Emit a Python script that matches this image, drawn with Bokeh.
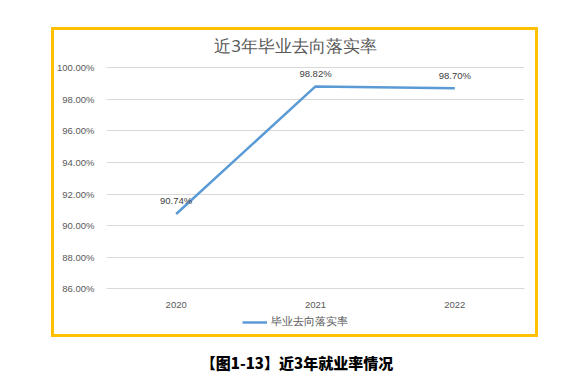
from bokeh.plotting import figure
from bokeh.models import (ColumnDataSource, FixedTicker, NumeralTickFormatter,
                          Legend, LegendItem, Range1d, Label, Div)
from bokeh.layouts import column
from bokeh.core.properties import value
from bokeh.embed import file_html
from bokeh.resources import INLINE

years = ["2020", "2021", "2022"]
rates = [0.9074, 0.9882, 0.9870]
rate_labels = ["90.74%", "98.82%", "98.70%"]
y_ticks = [0.86, 0.88, 0.90, 0.92, 0.94, 0.96, 0.98, 1.00]
chart_title = "近3年毕业去向落实率"
series_name = "毕业去向落实率"
caption = "【图1-13】近3年就业率情况"

# layout geometry (pixels)
W, FL, FR = 568, 106, 524          # figure width, frame left/right
FT, FB, BB = 26, 330, 24           # frame top/bottom, bottom border
Y_TOP_PX, Y_BOT_PX = 67.3, 288.3   # pixel rows of the 100% and 86% gridlines
k = (Y_BOT_PX - Y_TOP_PX) / (y_ticks[-1] - y_ticks[0])


def y_at(py):
    return y_ticks[0] + (Y_BOT_PX - py) / k


def x_at(px):
    return (px - FL) / ((FR - FL) / len(years))


src = ColumnDataSource(dict(x=years, y=rates, lab=rate_labels))

frame_css = (":host { position: relative; }\n"
             ":host::after { content: ''; position: absolute; left: 51px; top: 27px; "
             "width: 487px; height: 310px; box-sizing: border-box; "
             "border: 3px solid #FFC000; pointer-events: none; z-index: 10; }")

p = figure(width=W, height=FB + BB, x_range=years,
           y_range=Range1d(y_at(FB), y_at(FT)),
           output_backend="svg", toolbar_location=None,
           min_border_left=FL, min_border_right=W - FR, min_border_top=FT,
           min_border_bottom=BB, stylesheets=[frame_css])
p.outline_line_color = None
p.background_fill_color = "white"
p.border_fill_color = "white"

p.xgrid.grid_line_color = None
p.ygrid.grid_line_color = "#D9D9D9"
p.ygrid.grid_line_width = 1

p.yaxis.ticker = FixedTicker(ticks=y_ticks)
p.yaxis.formatter = NumeralTickFormatter(format="0.00%")
p.yaxis.axis_line_color = None
p.yaxis.major_tick_line_color = None
p.yaxis.minor_tick_line_color = None
p.yaxis.major_label_standoff = 6
p.yaxis.major_label_text_font = "Liberation Sans"
p.yaxis.major_label_text_font_size = "9.5px"
p.yaxis.major_label_text_color = "#595959"

p.xaxis.fixed_location = y_ticks[0]
p.xaxis.axis_line_color = "#D9D9D9"
p.xaxis.major_tick_line_color = None
p.xaxis.minor_tick_line_color = None
p.xaxis.major_label_standoff = 7
p.xaxis.major_label_text_font = "Liberation Sans"
p.xaxis.major_label_text_font_size = "9.5px"
p.xaxis.major_label_text_color = "#595959"

r = p.line("x", "y", source=src, line_color="#5B9BD5", line_width=2.5)
p.text("x", "y", text="lab", source=src, y_offset=-13, text_align="center",
       text_baseline="middle", text_font=value("Liberation Sans"),
       text_font_size="9.5px", text_color="#404040")

p.add_layout(Label(x=x_at(295), y=y_at(45), text=chart_title,
                   text_align="center", text_baseline="middle",
                   text_font="Noto Sans", text_font_size="17px",
                   text_color="#595959"))

legend = Legend(items=[LegendItem(label=series_name, renderers=[r])],
                location=(242 - FL, FB - 329), orientation="horizontal",
                glyph_width=25, glyph_height=12, label_height=12, label_standoff=4,
                padding=0, margin=0, border_line_color=None, background_fill_alpha=0,
                label_text_font="Noto Sans", label_text_font_size="10.5px",
                label_text_color="#595959")
p.add_layout(legend, "center")

cap = Div(text=caption, width=300, height=18, margin=(0, 0, 0, 147),
          styles={"font-family": "Noto Sans CJK SC, Noto Sans", "font-size": "15px",
                  "font-weight": "900", "text-align": "center", "color": "#000000",
                  "line-height": "18px"})

layout = column(p, cap, spacing=0)
open("out.html", "w").write(file_html(layout, INLINE))
